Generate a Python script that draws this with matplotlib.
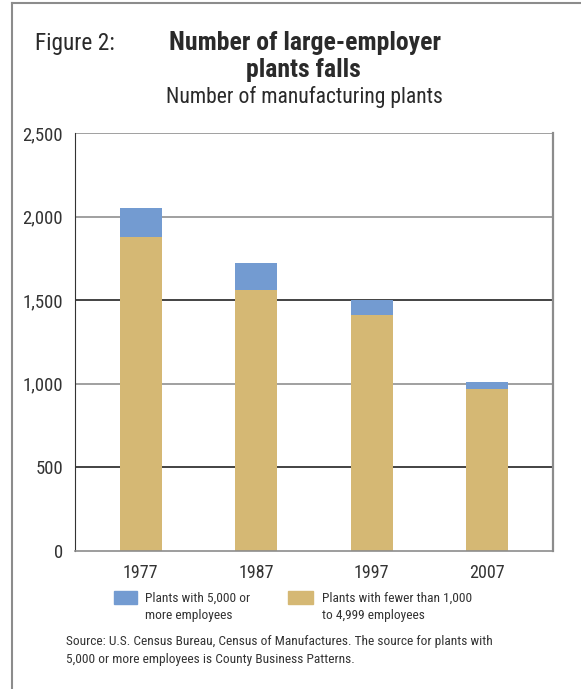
import matplotlib
matplotlib.use('Agg')
import matplotlib.pyplot as plt
from matplotlib.lines import Line2D
from matplotlib.patches import Rectangle
import numpy as np

# data
years = ['1977', '1987', '1997', '2007']
small_plants = [1877, 1560, 1410, 967]   # fewer than 1,000 to 4,999 employees
large_plants = [175, 160, 90, 42]        # 5,000 or more employees
yticks = [0, 500, 1000, 1500, 2000, 2500]
ytick_labels = ['0', '500', '1,000', '1,500', '2,000', '2,500']

BLUE = '#739bd1'
TAN = '#d5b874'
GREY = '#8c8c8c'
TXT = '#2a2a2a'
W, H = 581, 689

plt.rcParams['font.family'] = ['Roboto Condensed', 'Liberation Sans Narrow',
                               'Liberation Sans', 'DejaVu Sans']

fig = plt.figure(figsize=(W / 100, H / 100), dpi=100)

def fx(px):
    return px / W

def fy(py):
    return 1 - py / H

# outer frame lines (top and left)
fig.add_artist(Line2D([fx(12), 1], [fy(3), fy(3)], color=GREY, lw=1.5))
fig.add_artist(Line2D([fx(12), fx(12)], [fy(3), 0], color=GREY, lw=1.5))

# titles
fig.text(fx(35), fy(50), 'Figure 2:', fontsize=16.8, color=TXT, va='baseline')
fig.text(fx(305), fy(50), 'Number of large-employer', fontsize=18.5,
         fontweight='bold', ha='center', va='baseline', color=TXT)
fig.text(fx(303), fy(77), 'plants falls', fontsize=18.5,
         fontweight='bold', ha='center', va='baseline', color=TXT)
fig.text(fx(304), fy(103), 'Number of manufacturing plants', fontsize=15.6,
         ha='center', va='baseline', color=TXT)

# axes
ax = fig.add_axes([fx(75), fy(550.5), fx(553) - fx(75), fy(133) - fy(550.5)])
x = np.arange(len(years))
ax.bar(x, small_plants, width=0.363, color=TAN, zorder=2)
ax.bar(x, large_plants, bottom=small_plants, width=0.363, color=BLUE, zorder=2)

ax.set_xlim(-0.57, 3.57)
ax.set_ylim(0, 2500)
ax.set_yticks(yticks)
ax.set_yticklabels(ytick_labels)
ax.set_xticks(x)
ax.set_xticklabels(years)
ax.tick_params(length=0, colors='#333333')
ax.tick_params(axis='y', pad=8.5, labelsize=13.5)
ax.tick_params(axis='x', pad=10, labelsize=13)

# gridlines alternate grey / dark
for v in [500, 1000, 1500, 2000, 2500]:
    c = '#222222' if v in (500, 1500) else '#909090'
    ax.axhline(v, color=c, lw=1.2, zorder=1)

ax.spines['left'].set_color('#333333')
ax.spines['bottom'].set_color(GREY)
ax.spines['bottom'].set_linewidth(1.2)
ax.spines['right'].set_color(GREY)
ax.spines['right'].set_linewidth(1.6)
ax.spines['top'].set_visible(False)

# legend drawn by hand
fig.add_artist(Rectangle((fx(114), fy(604)), fx(137) - fx(114), fy(591) - fy(604),
                         color=BLUE))
fig.add_artist(Rectangle((fx(288), fy(604)), fx(313) - fx(288), fy(591) - fy(604),
                         color=TAN))
leg_fs = 9.6
fig.text(fx(145), fy(602), 'Plants with 5,000 or', fontsize=leg_fs,
         va='baseline', color='#333333')
fig.text(fx(145), fy(619), 'more employees', fontsize=leg_fs,
         va='baseline', color='#333333')
fig.text(fx(322), fy(602), 'Plants with fewer than 1,000', fontsize=leg_fs,
         va='baseline', color='#333333')
fig.text(fx(322), fy(619), 'to 4,999 employees', fontsize=leg_fs,
         va='baseline', color='#333333')

# source note
src_fs = 9.6
fig.text(fx(66), fy(645),
         'Source: U.S. Census Bureau, Census of Manufactures. The source for plants with',
         fontsize=src_fs, va='baseline', color='#333333')
fig.text(fx(66), fy(663),
         '5,000 or more employees is County Business Patterns.',
         fontsize=src_fs, va='baseline', color='#333333')

fig.savefig('out.png', dpi=100)
